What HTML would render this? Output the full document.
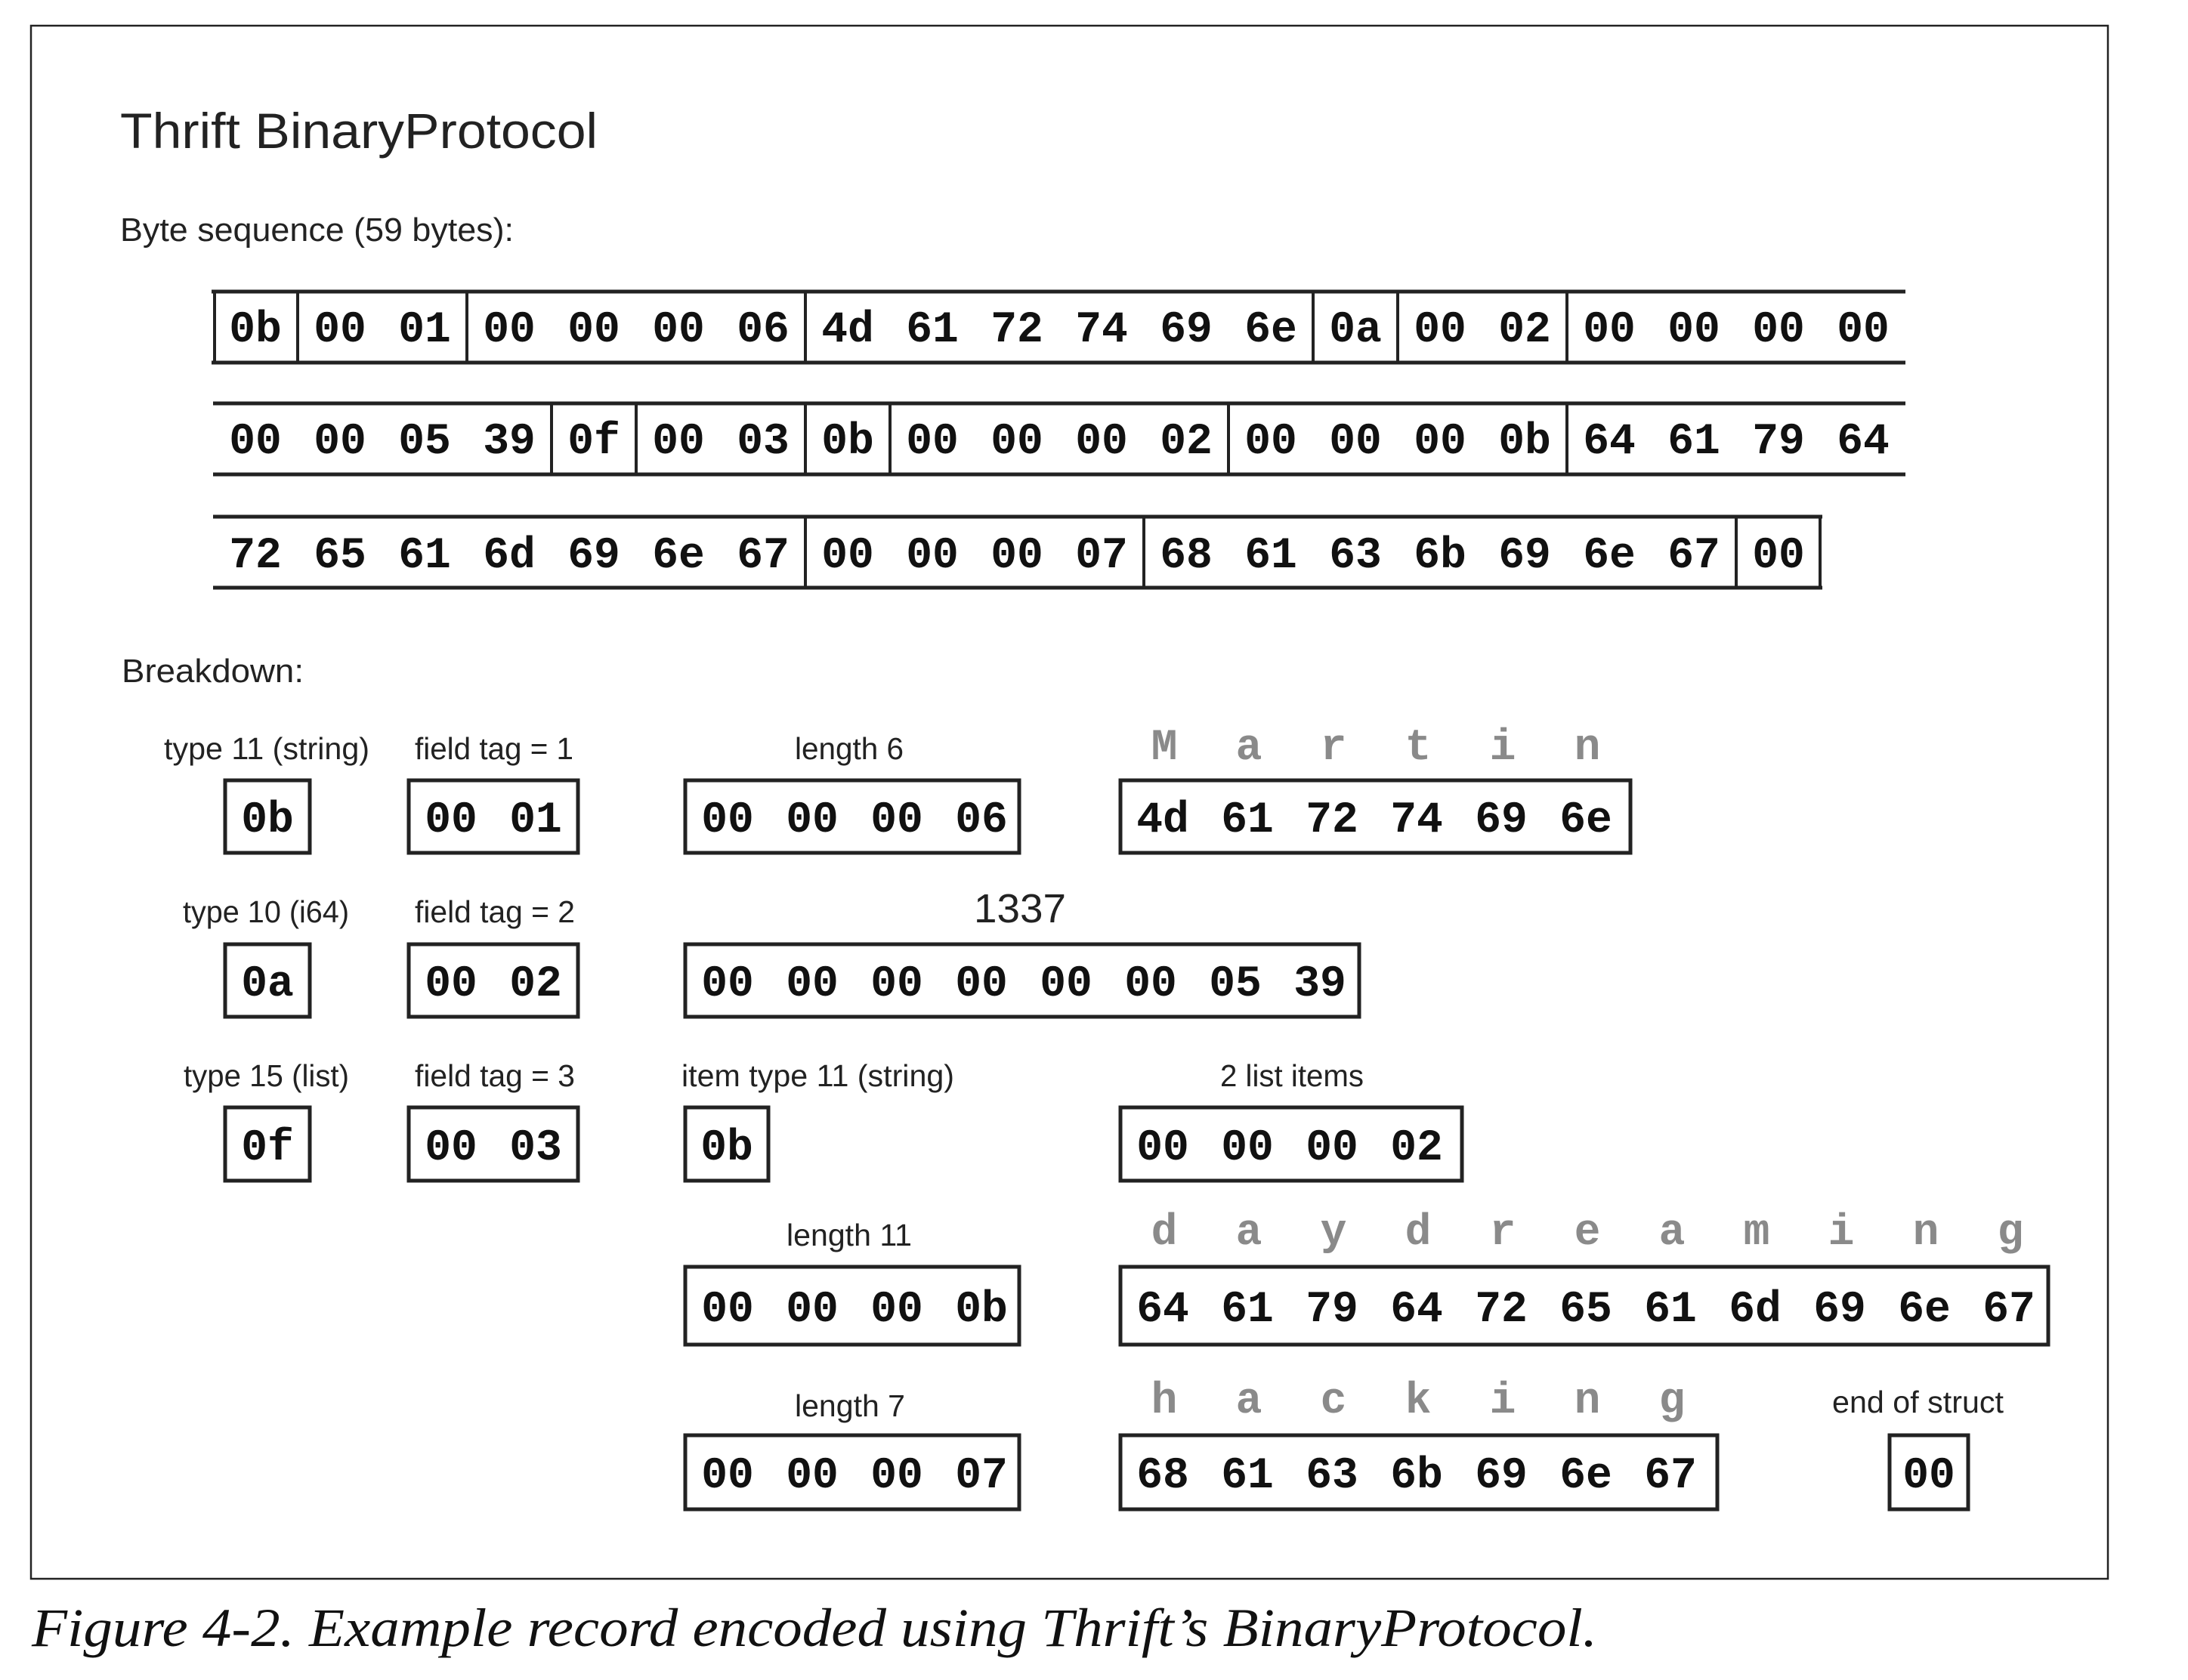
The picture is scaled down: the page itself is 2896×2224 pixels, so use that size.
<!DOCTYPE html>
<html><head><meta charset="utf-8"><style>
html,body{margin:0;padding:0;background:#fff;}
svg{display:block;}
.l{font-family:"Liberation Sans",sans-serif;font-size:41px;fill:#222;}
.m{font-family:"Liberation Mono",monospace;font-weight:bold;font-size:58px;fill:#111;text-anchor:middle;}
.g{font-family:"Liberation Mono",monospace;font-weight:bold;font-size:58px;fill:#8a8a8a;text-anchor:middle;}
</style></head><body>
<svg xmlns="http://www.w3.org/2000/svg" width="2896" height="2224" viewBox="0 0 2896 2224">
<rect x="41" y="34" width="2749" height="2056" fill="none" stroke="#222" stroke-width="2.5"/>
<text x="159" y="196" style="font-family:'Liberation Sans',sans-serif;font-size:66px;fill:#222" textLength="632" lengthAdjust="spacingAndGlyphs">Thrift BinaryProtocol</text>
<text x="159" y="319" style="font-family:'Liberation Sans',sans-serif;font-size:44px;fill:#222" textLength="521" lengthAdjust="spacingAndGlyphs">Byte sequence (59 bytes):</text>
<text x="161" y="903" style="font-family:'Liberation Sans',sans-serif;font-size:44px;fill:#222" textLength="241" lengthAdjust="spacingAndGlyphs">Breakdown:</text>

<g stroke="#222" stroke-width="5" fill="none">
<line x1="280" y1="386" x2="2522" y2="386"/><line x1="280" y1="480" x2="2522" y2="480"/>
<line x1="282" y1="534" x2="2522" y2="534"/><line x1="282" y1="628" x2="2522" y2="628"/>
<line x1="282" y1="684" x2="2412" y2="684"/><line x1="282" y1="778" x2="2412" y2="778"/>
</g>
<g stroke="#222" stroke-width="4">
<line x1="284" y1="386" x2="284" y2="480"/>
<line x1="394" y1="386" x2="394" y2="480"/><line x1="618" y1="386" x2="618" y2="480"/><line x1="1066" y1="386" x2="1066" y2="480"/><line x1="1738" y1="386" x2="1738" y2="480"/><line x1="1850" y1="386" x2="1850" y2="480"/><line x1="2074" y1="386" x2="2074" y2="480"/>
<line x1="730" y1="534" x2="730" y2="628"/><line x1="842" y1="534" x2="842" y2="628"/><line x1="1066" y1="534" x2="1066" y2="628"/><line x1="1178" y1="534" x2="1178" y2="628"/><line x1="1626" y1="534" x2="1626" y2="628"/><line x1="2074" y1="534" x2="2074" y2="628"/>
<line x1="1066" y1="684" x2="1066" y2="778"/><line x1="1514" y1="684" x2="1514" y2="778"/><line x1="2298" y1="684" x2="2298" y2="778"/><line x1="2409" y1="684" x2="2409" y2="778"/>
</g>
<g class="m">
<text x="338" y="452">0b</text><text x="450" y="452">00</text><text x="562" y="452">01</text><text x="674" y="452">00</text><text x="786" y="452">00</text><text x="898" y="452">00</text><text x="1010" y="452">06</text><text x="1122" y="452">4d</text><text x="1234" y="452">61</text><text x="1346" y="452">72</text><text x="1458" y="452">74</text><text x="1570" y="452">69</text><text x="1682" y="452">6e</text><text x="1794" y="452">0a</text><text x="1906" y="452">00</text><text x="2018" y="452">02</text><text x="2130" y="452">00</text><text x="2242" y="452">00</text><text x="2354" y="452">00</text><text x="2466" y="452">00</text>
<text x="338" y="600">00</text><text x="450" y="600">00</text><text x="562" y="600">05</text><text x="674" y="600">39</text><text x="786" y="600">0f</text><text x="898" y="600">00</text><text x="1010" y="600">03</text><text x="1122" y="600">0b</text><text x="1234" y="600">00</text><text x="1346" y="600">00</text><text x="1458" y="600">00</text><text x="1570" y="600">02</text><text x="1682" y="600">00</text><text x="1794" y="600">00</text><text x="1906" y="600">00</text><text x="2018" y="600">0b</text><text x="2130" y="600">64</text><text x="2242" y="600">61</text><text x="2354" y="600">79</text><text x="2466" y="600">64</text>
<text x="338" y="751">72</text><text x="450" y="751">65</text><text x="562" y="751">61</text><text x="674" y="751">6d</text><text x="786" y="751">69</text><text x="898" y="751">6e</text><text x="1010" y="751">67</text><text x="1122" y="751">00</text><text x="1234" y="751">00</text><text x="1346" y="751">00</text><text x="1458" y="751">07</text><text x="1570" y="751">68</text><text x="1682" y="751">61</text><text x="1794" y="751">63</text><text x="1906" y="751">6b</text><text x="2018" y="751">69</text><text x="2130" y="751">6e</text><text x="2242" y="751">67</text><text x="2354" y="751">00</text>
</g>

<g class="l">
<text x="217" y="1005" textLength="272" lengthAdjust="spacingAndGlyphs">type 11 (string)</text>
<text x="549" y="1005" textLength="210" lengthAdjust="spacingAndGlyphs">field tag = 1</text>
<text x="1052" y="1005" textLength="144" lengthAdjust="spacingAndGlyphs">length 6</text>
<text x="242" y="1221" textLength="220" lengthAdjust="spacingAndGlyphs">type 10 (i64)</text>
<text x="549" y="1221" textLength="212" lengthAdjust="spacingAndGlyphs">field tag = 2</text>
<text x="243" y="1438" textLength="219" lengthAdjust="spacingAndGlyphs">type 15 (list)</text>
<text x="549" y="1438" textLength="212" lengthAdjust="spacingAndGlyphs">field tag = 3</text>
<text x="902" y="1438" textLength="361" lengthAdjust="spacingAndGlyphs">item type 11 (string)</text>
<text x="1615" y="1438" textLength="190" lengthAdjust="spacingAndGlyphs">2 list items</text>
<text x="1041" y="1649" textLength="166" lengthAdjust="spacingAndGlyphs">length 11</text>
<text x="1052" y="1875" textLength="146" lengthAdjust="spacingAndGlyphs">length 7</text>
<text x="2425" y="1870" textLength="227" lengthAdjust="spacingAndGlyphs">end of struct</text>
</g>
<text x="1289" y="1221" style="font-family:'Liberation Sans',sans-serif;font-size:54px;fill:#222" textLength="122" lengthAdjust="spacingAndGlyphs">1337</text>

<g stroke="#222" stroke-width="5" fill="none">
<rect x="298" y="1033" width="112" height="96"/>
<rect x="541" y="1033" width="224" height="96"/>
<rect x="907" y="1033" width="442" height="96"/>
<rect x="1483" y="1033" width="675" height="96"/>
<rect x="298" y="1250" width="112" height="96"/>
<rect x="541" y="1250" width="224" height="96"/>
<rect x="907" y="1250" width="892" height="96"/>
<rect x="298" y="1466" width="112" height="97"/>
<rect x="541" y="1466" width="224" height="97"/>
<rect x="907" y="1466" width="110" height="97"/>
<rect x="1483" y="1466" width="452" height="97"/>
<rect x="907" y="1677" width="442" height="103"/>
<rect x="1483" y="1677" width="1228" height="103"/>
<rect x="907" y="1900" width="442" height="98"/>
<rect x="1483" y="1900" width="790" height="98"/>
<rect x="2501" y="1900" width="104" height="98"/>
</g>
<g class="m">
<text x="354" y="1101">0b</text>
<text x="597" y="1101">00</text><text x="709" y="1101">01</text>
<text x="963" y="1101">00</text><text x="1075" y="1101">00</text><text x="1187" y="1101">00</text><text x="1299" y="1101">06</text>
<text x="1539" y="1101">4d</text><text x="1651" y="1101">61</text><text x="1763" y="1101">72</text><text x="1875" y="1101">74</text><text x="1987" y="1101">69</text><text x="2099" y="1101">6e</text>
<text x="354" y="1318">0a</text>
<text x="597" y="1318">00</text><text x="709" y="1318">02</text>
<text x="963" y="1318">00</text><text x="1075" y="1318">00</text><text x="1187" y="1318">00</text><text x="1299" y="1318">00</text><text x="1411" y="1318">00</text><text x="1523" y="1318">00</text><text x="1635" y="1318">05</text><text x="1747" y="1318">39</text>
<text x="354" y="1535">0f</text>
<text x="597" y="1535">00</text><text x="709" y="1535">03</text>
<text x="962" y="1535">0b</text>
<text x="1539" y="1535">00</text><text x="1651" y="1535">00</text><text x="1763" y="1535">00</text><text x="1875" y="1535">02</text>
<text x="963" y="1749">00</text><text x="1075" y="1749">00</text><text x="1187" y="1749">00</text><text x="1299" y="1749">0b</text>
<text x="1539" y="1749">64</text><text x="1651" y="1749">61</text><text x="1763" y="1749">79</text><text x="1875" y="1749">64</text><text x="1987" y="1749">72</text><text x="2099" y="1749">65</text><text x="2211" y="1749">61</text><text x="2323" y="1749">6d</text><text x="2435" y="1749">69</text><text x="2547" y="1749">6e</text><text x="2659" y="1749">67</text>
<text x="963" y="1969">00</text><text x="1075" y="1969">00</text><text x="1187" y="1969">00</text><text x="1299" y="1969">07</text>
<text x="1539" y="1969">68</text><text x="1651" y="1969">61</text><text x="1763" y="1969">63</text><text x="1875" y="1969">6b</text><text x="1987" y="1969">69</text><text x="2099" y="1969">6e</text><text x="2211" y="1969">67</text>
<text x="2553" y="1969">00</text>
</g>
<g class="g">
<text x="1541" y="1005">M</text><text x="1653" y="1005">a</text><text x="1765" y="1005">r</text><text x="1877" y="1005">t</text><text x="1989" y="1005">i</text><text x="2101" y="1005">n</text>
<text x="1541" y="1647">d</text><text x="1653" y="1647">a</text><text x="1765" y="1647">y</text><text x="1877" y="1647">d</text><text x="1989" y="1647">r</text><text x="2101" y="1647">e</text><text x="2213" y="1647">a</text><text x="2325" y="1647">m</text><text x="2437" y="1647">i</text><text x="2549" y="1647">n</text><text x="2661" y="1647">g</text>
<text x="1541" y="1870">h</text><text x="1653" y="1870">a</text><text x="1765" y="1870">c</text><text x="1877" y="1870">k</text><text x="1989" y="1870">i</text><text x="2101" y="1870">n</text><text x="2213" y="1870">g</text>
</g>
<text x="42" y="2179" style="font-family:'Liberation Serif',serif;font-style:italic;font-size:72px;fill:#111" textLength="2072" lengthAdjust="spacingAndGlyphs">Figure 4-2. Example record encoded using Thrift’s BinaryProtocol.</text>
</svg>
</body></html>
